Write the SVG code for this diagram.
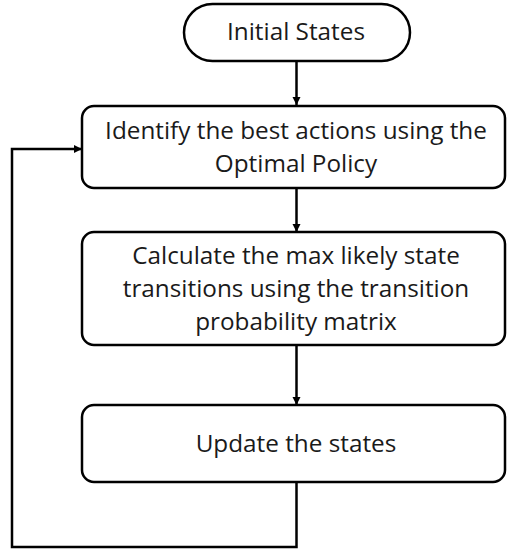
<svg xmlns="http://www.w3.org/2000/svg" width="507" height="552" viewBox="0 0 507 552">
  <style>
    .shape { fill: #ffffff; stroke: #000000; stroke-width: 2.5; }
    .label { font-family: "Open Sans", "Liberation Sans", Arial, sans-serif; font-size: 24.3px; fill: #1a1a1a; text-anchor: middle; }
    .wire { fill: none; stroke: #000000; stroke-width: 2.5; }
  </style>
  <defs>
    <marker id="arrow" viewBox="0 0 10 10" refX="10" refY="5" markerWidth="3.4" markerHeight="3.4" markerUnits="strokeWidth" orient="auto">
      <path d="M0,0 L10,5 L0,10 z" fill="#000000"/>
    </marker>
  </defs>
  <rect width="507" height="552" fill="#ffffff"/>

  <g id="connectors">
    <line class="wire" x1="296.5" y1="61" x2="296.5" y2="105" marker-end="url(#arrow)"/>
    <line class="wire" x1="296.5" y1="188" x2="296.5" y2="232" marker-end="url(#arrow)"/>
    <line class="wire" x1="296.5" y1="345" x2="296.5" y2="405" marker-end="url(#arrow)"/>
    <polyline class="wire" points="296.5,482 296.5,547 12,547 12,149 82,149" marker-end="url(#arrow)"/>
  </g>

  <g id="start">
    <rect class="shape" x="184" y="4" width="226" height="57" rx="28.5" ry="28.5"/>
    <text class="label" x="296" y="40">Initial States</text>
  </g>

  <g id="identify">
    <rect class="shape" x="82" y="106" width="423" height="82" rx="12" ry="12"/>
    <text class="label" x="296" y="138.5">Identify the best actions using the</text>
    <text class="label" x="296" y="172">Optimal Policy</text>
  </g>

  <g id="calculate">
    <rect class="shape" x="82" y="232" width="423" height="113" rx="12" ry="12"/>
    <text class="label" x="296" y="263.5">Calculate the max likely state</text>
    <text class="label" x="296" y="297">transitions using the transition</text>
    <text class="label" x="296" y="330">probability matrix</text>
  </g>

  <g id="update">
    <rect class="shape" x="82" y="405" width="423" height="77" rx="12" ry="12"/>
    <text class="label" x="296" y="452">Update the states</text>
  </g>
</svg>
